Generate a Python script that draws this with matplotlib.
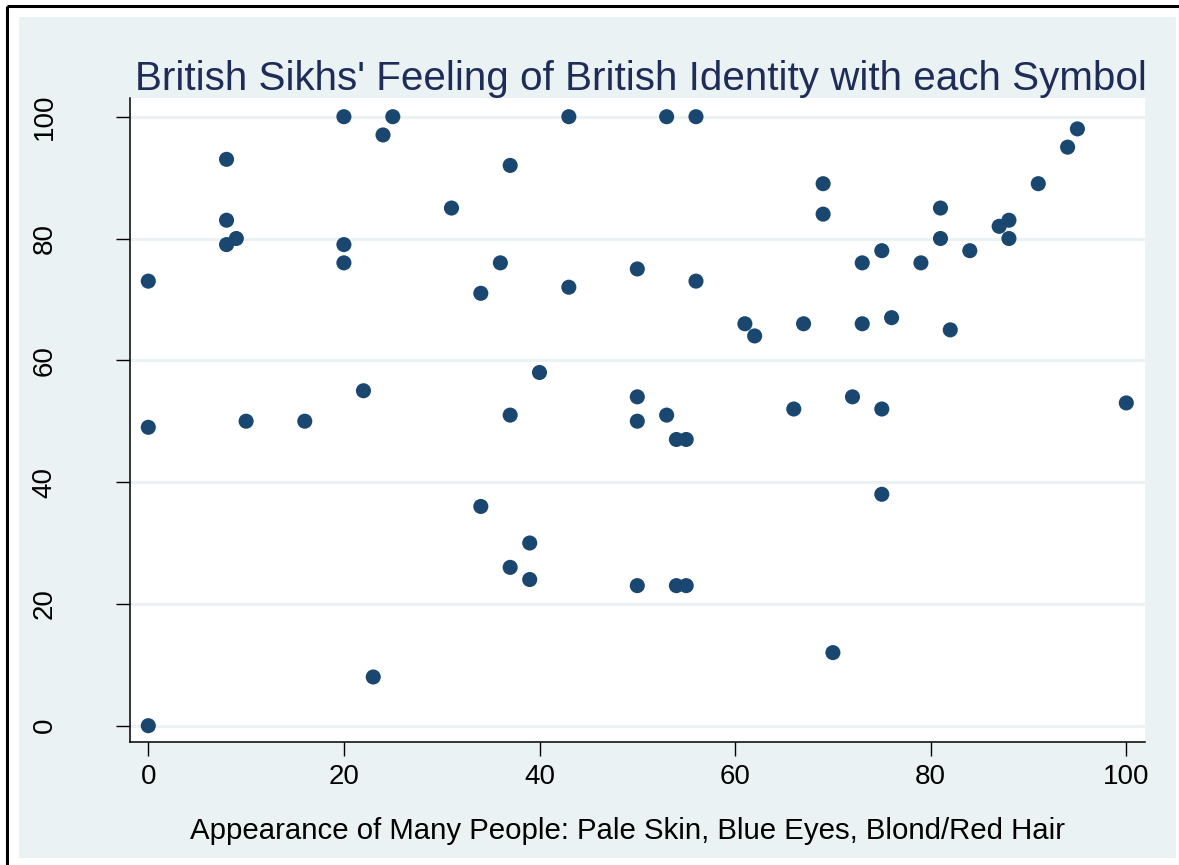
import matplotlib
matplotlib.use("Agg")
import matplotlib.pyplot as plt
from matplotlib.patches import Rectangle

# Data
appearance = [0, 0, 0, 8, 8, 8, 9, 10, 16, 20, 20, 20, 22, 23, 24, 25, 31, 34, 34, 36,
              37, 37, 37, 39, 39, 40, 43, 43, 50, 50, 50, 50, 53, 53, 54, 55, 54, 55,
              56, 56, 61, 62, 66, 67, 69, 69, 70, 72, 73, 73, 75, 75, 75, 76, 79,
              81, 81, 82, 84, 87, 88, 88, 91, 94, 95, 100]
identity = [73, 49, 0, 93, 83, 79, 80, 50, 50, 100, 79, 76, 55, 8, 97, 100, 85, 71, 36, 76,
            92, 51, 26, 30, 24, 58, 100, 72, 75, 54, 50, 23, 100, 51, 47, 47, 23, 23,
            100, 73, 66, 64, 52, 66, 89, 84, 12, 54, 76, 66, 78, 52, 38, 67, 76,
            85, 80, 65, 78, 82, 83, 80, 89, 95, 98, 53]

xticks = [0, 20, 40, 60, 80, 100]
yticks = [0, 20, 40, 60, 80, 100]

title = "British Sikhs' Feeling of British Identity with each Symbol"
xlabel = "Appearance of Many People: Pale Skin, Blue Eyes, Blond/Red Hair"

W, H = 1179, 865
plt.rcParams['font.family'] = ['Liberation Sans', 'DejaVu Sans']
fig = plt.figure(figsize=(W / 100, H / 100), dpi=100)
fig.patch.set_facecolor('white')

bg = '#EAF2F3'
# background axes holding the light outer region and the frame lines
bax = fig.add_axes([0, 0, 1, 1], zorder=0)
bax.set_xlim(0, W)
bax.set_ylim(H, 0)
bax.axis('off')
bax.add_patch(Rectangle((19, 17), 1176 - 19, 858 - 17, facecolor=bg, edgecolor='none'))
bax.plot([7, W], [6, 6], color='black', linewidth=2.2, solid_capstyle='butt')
bax.plot([7, 7], [6, H], color='black', linewidth=2.2, solid_capstyle='butt')

left, right, top, bottom = 130, 1145, 98, 742
ax = fig.add_axes([left / W, 1 - bottom / H, (right - left) / W, (bottom - top) / H], zorder=2)
ax.set_facecolor('white')

ax.scatter(appearance, identity, s=118, color='#1A476F', edgecolors='none', zorder=3)

x0px, xunit = 148.3, 9.78
y0px, yunit = 725.7, 6.09
ax.set_xlim((left - x0px) / xunit, (right - x0px) / xunit)
ax.set_ylim((y0px - bottom) / yunit, (y0px - top) / yunit)

ax.set_xticks(xticks)
ax.set_yticks(yticks)
ax.set_xticklabels([str(v) for v in xticks], fontsize=20)
ax.set_yticklabels([str(v) for v in yticks], fontsize=20, rotation=90, va='center')
ax.tick_params(axis='both', direction='out', length=10, width=1.0, color='black', labelcolor='black')
ax.tick_params(axis='x', pad=6)
ax.tick_params(axis='y', pad=42)

for v in yticks:
    ax.axhline(v, color=bg, linewidth=2.2, zorder=1)

for s in ['top', 'right']:
    ax.spines[s].set_visible(False)
for s in ['left', 'bottom']:
    ax.spines[s].set_color('black')
    ax.spines[s].set_linewidth(1.1)

ax.set_xlabel(xlabel, fontsize=21.2, labelpad=18, color='black')
ax.xaxis.set_label_coords(0.4906, -0.1165)
ax.xaxis.label.set_va('top')
ax.set_title(title, fontsize=29.1, color='#1E2C57', pad=5, x=0.5034)

fig.savefig('out.png', dpi=100, facecolor='white')
